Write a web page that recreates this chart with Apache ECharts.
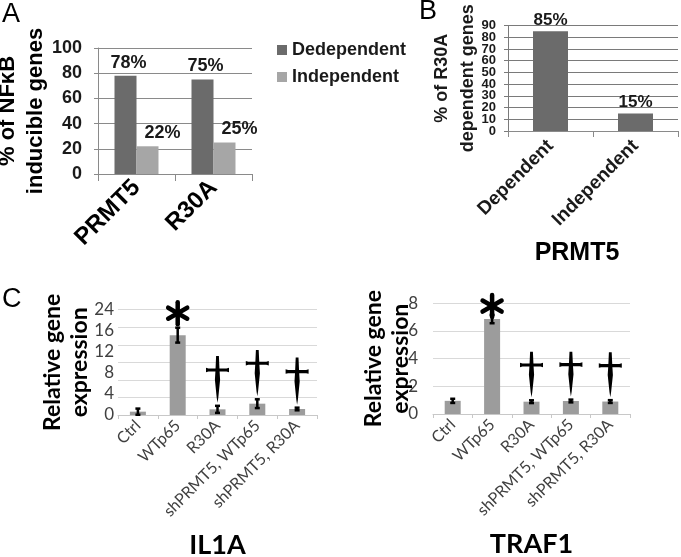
<!DOCTYPE html>
<html>
<head>
<meta charset="utf-8">
<script src="https://cdn.jsdelivr.net/npm/echarts@6/dist/echarts.min.js"></script>
<style>html,body{margin:0;padding:0;background:#fff}#chart{width:681px;height:557px}</style>
</head>
<body>
<div id="chart"></div>
<script>
// ---- Panel A ----
const groupsA = ['PRMT5', 'R30A'];
const dependentA = [78, 75];
const independentA = [22, 25];
// ---- Panel B ----
const catsB = ['Dependent', 'Independent'];
const valuesB = [85, 15];
const ticksB = ['0', '10', '20', '30', '40', '50', '60', '70', '80', '90'];
// ---- Panel C ----
const samples = ['Ctrl', 'WTp65', 'R30A', 'shPRMT5, WTp65', 'shPRMT5, R30A'];
const il1aMean = [0.76, 18.2, 1.29, 2.58, 1.37];
const il1aErr = [0.7, 1.7, 0.8, 1.0, 0.3];
const il1aTickLabels = ['0', '4', '8', '12', '16', '24'];
const il1aStar = [[1, 23.2]];
const il1aDagger = [[2, 10.26, 13.45], [3, 11.8, 14.8], [4, 9.9, 13.1]]; // [sample, crossbar, top]
const traf1Mean = [0.95, 6.86, 0.89, 0.94, 0.9];
const traf1Err = [0.15, 0.3, 0.1, 0.1, 0.1];
const traf1Star = [[1, 7.8]];
const traf1Dagger = [[2, 3.54, 4.5], [3, 3.57, 4.5], [4, 3.5, 4.46]];

const AR = 'Liberation Sans';
const CA = 'Lato';

function errData(mean, err) { return mean.map((m, i) => [i, m + err[i], m - err[i]]); }
function daggerData(d, mean, err) { return d.map(r => [r[0], r[1], r[2], mean[r[0]] + err[r[0]]]); }

function errorItem(params, api) {
  const x = api.value(0);
  const p1 = api.coord([x, api.value(1)]);
  const p2 = api.coord([x, api.value(2)]);
  const w = 5, st = { stroke: '#000', lineWidth: 2.5 };
  return { type: 'group', children: [
    { type: 'line', shape: { x1: p1[0], y1: p1[1], x2: p2[0], y2: p2[1] }, style: st },
    { type: 'line', shape: { x1: p1[0] - w / 2, y1: p1[1], x2: p1[0] + w / 2, y2: p1[1] }, style: st },
    { type: 'line', shape: { x1: p2[0] - w / 2, y1: p2[1], x2: p2[0] + w / 2, y2: p2[1] }, style: st }
  ]};
}
function daggerItem(params, api) {
  const i = api.value(0);
  const c = api.coord([i, api.value(1)]);
  const t = api.coord([i, api.value(2)]);
  const b = api.coord([i, api.value(3)]);
  const x = c[0], cy = c[1], ty = t[1], by = b[1] - 3;
  const bulge = cy + (by - cy) * 0.3;
  return { type: 'group', children: [
    { type: 'polygon', shape: { points: [[x - 11.5, cy - 2.3], [x - 9, cy - 1.6], [x + 9, cy - 1.6], [x + 11.5, cy - 2.3], [x + 11.5, cy + 2.3], [x + 9, cy + 1.6], [x - 9, cy + 1.6], [x - 11.5, cy + 2.3]] }, style: { fill: '#000' } },
    { type: 'polygon', shape: { points: [[x - 1.4, ty], [x + 1.4, ty], [x + 2, cy], [x + 2.6, bulge], [x + 0.8, by - 5], [x, by], [x - 0.8, by - 5], [x - 2.6, bulge], [x - 2, cy]] }, style: { fill: '#000' } }
  ]};
}
function starItem(params, api) {
  const c = api.coord([api.value(0), api.value(1)]);
  const r = 11, kids = [];
  [90, 30, 150].forEach(a => {
    const rad = a * Math.PI / 180, dx = r * Math.cos(rad), dy = r * Math.sin(rad);
    kids.push({ type: 'line', shape: { x1: c[0] - dx, y1: c[1] - dy, x2: c[0] + dx, y2: c[1] + dy }, style: { stroke: '#000', lineWidth: 4.5, lineCap: 'round' } });
  });
  return { type: 'group', children: kids };
}

const gridA = { left: 98, right: 429, top: 48, bottom: 383, outerBoundsMode: 'none' };
const gridB = { left: 508, right: 3, top: 25.5, bottom: 426, outerBoundsMode: 'none' };
const gridC1 = { left: 118, right: 364, top: 309.7, bottom: 142, outerBoundsMode: 'none' };
const gridC2 = { left: 433, right: 51, top: 303.3, bottom: 143, outerBoundsMode: 'none' };

const darkLine = { lineStyle: { color: '#8a8a8a', width: 1 } };
const lightLine = { lineStyle: { color: '#d9d9d9', width: 1 } };

const option = {
  animation: false,
  backgroundColor: '#fff',
  title: [
    { text: 'A', left: 2, top: 1, padding: 0, textStyle: { fontFamily: AR, fontSize: 27, fontWeight: 'normal', color: '#000' } },
    { text: 'B', left: 419, top: -2, padding: 0, textStyle: { fontFamily: AR, fontSize: 27, fontWeight: 'normal', color: '#000' } },
    { text: 'C', left: 2, top: 286, padding: 0, textStyle: { fontFamily: AR, fontSize: 27, fontWeight: 'normal', color: '#000' } }
  ],
  legend: {
    data: ['Dedependent', 'Independent'], orient: 'vertical', left: 277, top: 41, itemGap: 9,
    icon: 'rect', itemWidth: 10, itemHeight: 10, padding: 0,
    textStyle: { fontFamily: AR, fontSize: 18, fontWeight: 'bold', color: '#1a1a1a' }
  },
  grid: [gridA, gridB, gridC1, gridC2],
  xAxis: [
    { type: 'category', gridIndex: 0, data: groupsA,
      axisLine: darkLine, axisTick: { show: true, length: 7, lineStyle: { color: '#8a8a8a' } },
      axisLabel: { rotate: 45, margin: 10, fontFamily: AR, fontSize: 24, fontWeight: 'bold', color: '#000' } },
    { type: 'category', gridIndex: 1, data: catsB,
      axisLine: darkLine, axisTick: { show: true, length: 6, lineStyle: { color: '#8a8a8a' } },
      axisLabel: { rotate: 45, margin: 12, fontFamily: AR, fontSize: 19, fontWeight: 'bold', color: '#1a1a1a' },
      name: 'PRMT5', nameLocation: 'middle', nameGap: 110, nameMoveOverlap: false,
      nameTextStyle: { fontFamily: AR, fontSize: 25, fontWeight: 'bold', color: '#000', padding: [0, 32, 0, 0] } },
    { type: 'category', gridIndex: 2, data: samples,
      axisLine: { lineStyle: { color: '#c8c8c8' } }, axisTick: { show: true, length: 4, lineStyle: { color: '#c8c8c8' } },
      axisLabel: { rotate: 45, interval: 0, margin: 8, fontFamily: CA, fontSize: 16, color: '#404040' },
      name: 'IL1A', nameLocation: 'middle', nameGap: 117, nameMoveOverlap: false,
      nameTextStyle: { fontFamily: CA, fontSize: 27, fontWeight: 'bold', color: '#000' } },
    { type: 'category', gridIndex: 3, data: samples,
      axisLine: { lineStyle: { color: '#c8c8c8' } }, axisTick: { show: true, length: 4, lineStyle: { color: '#c8c8c8' } },
      axisLabel: { rotate: 45, interval: 0, margin: 8, fontFamily: CA, fontSize: 16, color: '#404040' },
      name: 'TRAF1', nameLocation: 'middle', nameGap: 117, nameMoveOverlap: false,
      nameTextStyle: { fontFamily: CA, fontSize: 27, fontWeight: 'bold', color: '#000' } }
  ],
  yAxis: [
    { type: 'value', gridIndex: 0, min: 0, max: 100, interval: 20,
      axisLine: { show: true, lineStyle: { color: '#8a8a8a' } }, axisTick: { show: true, length: 4, lineStyle: { color: '#8a8a8a' } },
      splitLine: darkLine,
      axisLabel: { margin: 16, fontFamily: AR, fontSize: 18, fontWeight: 'bold', color: '#1a1a1a' },
      name: '% of NF\u03baB\ninducible genes', nameLocation: 'middle', nameRotate: 90, nameGap: 48, nameMoveOverlap: false,
      nameTextStyle: { fontFamily: AR, fontSize: 22, fontWeight: 'bold', color: '#000', lineHeight: 28 } },
    { type: 'value', gridIndex: 1, min: 0, max: 90, interval: 10,
      axisLine: { show: true, lineStyle: { color: '#7a7a7a' } }, axisTick: { show: true, length: 4, lineStyle: { color: '#7a7a7a' } },
      splitLine: { lineStyle: { color: '#7a7a7a', width: 1 } },
      axisLabel: { show: false },
      name: '% of R30A\ndependent genes', nameLocation: 'middle', nameRotate: 90, nameGap: 27, nameMoveOverlap: false,
      nameTextStyle: { fontFamily: AR, fontSize: 18, fontWeight: 'bold', color: '#1a1a1a', lineHeight: 26 } },
    { type: 'value', gridIndex: 2, min: 0, max: 24, interval: 4,
      axisLine: { show: false }, axisTick: { show: false }, splitLine: lightLine,
      axisLabel: { show: false },
      name: 'Relative gene\nexpression', nameLocation: 'middle', nameRotate: 90, nameGap: 25, nameMoveOverlap: false,
      nameTextStyle: { fontFamily: CA, fontSize: 23, fontWeight: 'bold', color: '#000', lineHeight: 27 } },
    { type: 'value', gridIndex: 2, min: 0, max: 5, interval: 1, position: 'left',
      axisLine: { show: false }, axisTick: { show: false }, splitLine: { show: false },
      axisLabel: { margin: 4, fontFamily: CA, fontSize: 17, color: '#404040', formatter: v => il1aTickLabels[v] } },
    { type: 'value', gridIndex: 3, min: 0, max: 8, interval: 2,
      axisLine: { show: false }, axisTick: { show: false }, splitLine: lightLine,
      axisLabel: { margin: 15, fontFamily: CA, fontSize: 17, color: '#404040' },
      name: 'Relative gene\nexpression', nameLocation: 'middle', nameRotate: 90, nameGap: 19, nameMoveOverlap: false,
      nameTextStyle: { fontFamily: CA, fontSize: 23, fontWeight: 'bold', color: '#000', lineHeight: 27 } },
    { type: 'category', gridIndex: 1, data: ticksB, boundaryGap: false, position: 'left',
      axisLine: { show: false }, axisTick: { show: false }, splitLine: { show: false },
      axisLabel: { interval: 0, margin: 12, fontFamily: AR, fontSize: 13, fontWeight: 'bold', color: '#1a1a1a' } }
  ],
  series: [
    { name: 'Dedependent', type: 'bar', xAxisIndex: 0, yAxisIndex: 0, data: dependentA, barWidth: 22, barGap: '0%',
      itemStyle: { color: '#6b6b6b' },
      label: { show: true, position: 'top', distance: 4, offset: [3, 0], formatter: '{c}%', fontFamily: AR, fontSize: 18, fontWeight: 'bold', color: '#1a1a1a' } },
    { name: 'Independent', type: 'bar', xAxisIndex: 0, yAxisIndex: 0, data: independentA, barWidth: 22, barGap: '0%',
      itemStyle: { color: '#a6a6a6' },
      label: { show: true, position: 'top', distance: 4, offset: [15, 0], formatter: '{c}%', fontFamily: AR, fontSize: 18, fontWeight: 'bold', color: '#1a1a1a' } },
    { name: 'R30A dependent', type: 'bar', xAxisIndex: 1, yAxisIndex: 1, data: valuesB, barWidth: 35,
      itemStyle: { color: '#6b6b6b' },
      label: { show: true, position: 'top', distance: 3, formatter: '{c}%', fontFamily: AR, fontSize: 17, fontWeight: 'bold', color: '#1a1a1a' } },
    { name: 'IL1A', type: 'bar', xAxisIndex: 2, yAxisIndex: 2, data: il1aMean, barWidth: 16, itemStyle: { color: '#9c9c9c' } },
    { name: 'IL1A err', type: 'custom', xAxisIndex: 2, yAxisIndex: 2, data: errData(il1aMean, il1aErr), encode: { x: 0, y: [1, 2] }, renderItem: errorItem, z: 5 },
    { name: 'IL1A star', type: 'custom', xAxisIndex: 2, yAxisIndex: 2, data: il1aStar, encode: { x: 0, y: 1 }, renderItem: starItem, z: 6 },
    { name: 'IL1A dagger', type: 'custom', xAxisIndex: 2, yAxisIndex: 2, data: daggerData(il1aDagger, il1aMean, il1aErr), encode: { x: 0, y: [1, 2, 3] }, renderItem: daggerItem, z: 6 },
    { name: 'TRAF1', type: 'bar', xAxisIndex: 3, yAxisIndex: 4, data: traf1Mean, barWidth: 16, itemStyle: { color: '#9c9c9c' } },
    { name: 'TRAF1 err', type: 'custom', xAxisIndex: 3, yAxisIndex: 4, data: errData(traf1Mean, traf1Err), encode: { x: 0, y: [1, 2] }, renderItem: errorItem, z: 5 },
    { name: 'TRAF1 star', type: 'custom', xAxisIndex: 3, yAxisIndex: 4, data: traf1Star, encode: { x: 0, y: 1 }, renderItem: starItem, z: 6 },
    { name: 'TRAF1 dagger', type: 'custom', xAxisIndex: 3, yAxisIndex: 4, data: daggerData(traf1Dagger, traf1Mean, traf1Err), encode: { x: 0, y: [1, 2, 3] }, renderItem: daggerItem, z: 6 }
  ]
};
const chart = echarts.init(document.getElementById('chart'));
chart.setOption(option);
</script>
</body>
</html>
